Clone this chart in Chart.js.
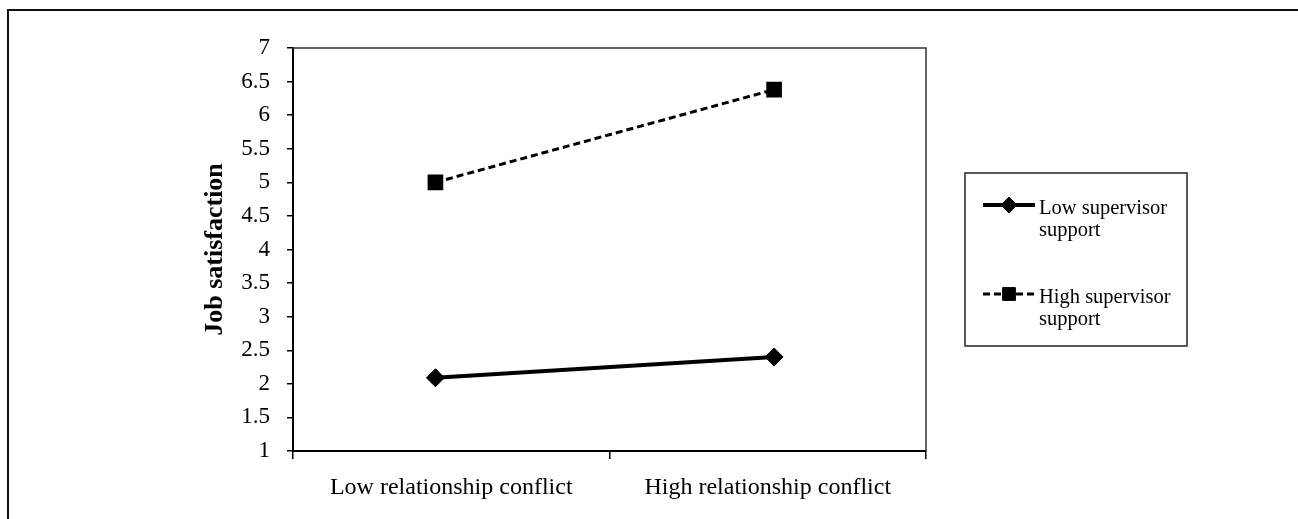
<!DOCTYPE html>
<html>
<head>
<meta charset="utf-8">
<script src="https://cdn.jsdelivr.net/npm/chart.js@4/dist/chart.umd.min.js"></script>
<style>
  html, body { margin: 0; padding: 0; background: #fff; overflow: hidden; }
  #frame { position: absolute; left: 7px; top: 9px; width: 1400px; height: 600px; border-top: 2px solid #111; border-left: 2px solid #111; }
  #wrap { position: absolute; left: 0; top: 0; width: 1298px; height: 519px; }
</style>
</head>
<body>
<div id="frame"></div>
<div id="wrap"><canvas id="chart"></canvas></div>
<script>
const categories = ["Low relationship conflict", "High relationship conflict"]
const xPositions = [0.45, 1.52]
const lowSupport = [2.09, 2.4]
const highSupport = [5.0, 6.38]
const seriesNames = [["Low supervisor", "support"], ["High supervisor", "support"]]
const yTicks = [1, 1.5, 2, 2.5, 3, 3.5, 4, 4.5, 5, 5.5, 6, 6.5, 7]

const serif = "'Liberation Serif', 'Times New Roman', serif"

function points(vals){
    return vals.map((v, i) => ({ x: xPositions[i], y: v }))
}

// box round the plot area and the legend on the right
const boxPlugin = {
    id: 'boxPlugin',
    afterDraw(chart){
        const ctx = chart.ctx
        const a = chart.chartArea
        ctx.save()
        ctx.strokeStyle = '#333'
        ctx.lineWidth = 1.5
        ctx.beginPath()
        ctx.moveTo(a.left, a.top)
        ctx.lineTo(a.right, a.top)
        ctx.lineTo(a.right, a.bottom)
        ctx.stroke()

        // legend
        ctx.strokeStyle = '#222'
        ctx.lineWidth = 1.5
        ctx.strokeRect(965, 173, 222, 173)
        const rows = [205, 294]
        chart.data.datasets.forEach((ds, i) => {
            const y = rows[i]
            ctx.strokeStyle = '#000'
            ctx.lineWidth = ds.borderWidth
            ctx.setLineDash(ds.borderDash || [])
            ctx.beginPath()
            ctx.moveTo(983, y)
            ctx.lineTo(1035, y)
            ctx.stroke()
            ctx.setLineDash([])
            ctx.fillStyle = '#000'
            ctx.lineWidth = 1
            Chart.helpers.drawPoint(ctx, { pointStyle: ds.pointStyle, radius: ds.pointRadius - 1, borderWidth: 1 }, 1009, y)
            ctx.fill()
            ctx.font = '20.5px ' + serif
            ctx.textBaseline = 'middle'
            ctx.fillText(seriesNames[i][0], 1039, y + 4)
            ctx.fillText(seriesNames[i][1], 1039, y + 26)
        })
        ctx.restore()
    }
}

new Chart(document.getElementById('chart'), {
    type: 'line',
    data: {
        labels: categories,
        datasets: [
            {
                label: seriesNames[0].join(' '),
                data: points(lowSupport),
                xAxisID: 'xp',
                borderColor: '#000',
                backgroundColor: '#000',
                borderWidth: 4,
                pointStyle: 'rectRot',
                pointRadius: 9,
                pointBorderWidth: 1,
                tension: 0
            },
            {
                label: seriesNames[1].join(' '),
                data: points(highSupport),
                xAxisID: 'xp',
                borderColor: '#000',
                backgroundColor: '#000',
                borderWidth: 3,
                borderDash: [7, 4],
                pointStyle: 'rect',
                pointRadius: 10,
                pointBorderWidth: 1.5,
                tension: 0
            }
        ]
    },
    options: {
        responsive: true,
        maintainAspectRatio: false,
        animation: false,
        layout: { padding: { left: 200, right: 372, top: 48, bottom: 0 } },
        plugins: { legend: { display: false }, tooltip: { enabled: false } },
        scales: {
            x: {
                type: 'category',
                offset: true,
                afterFit: s => { s.height = 68 },
                grid: { display: true, drawOnChartArea: false, offset: true, tickLength: 8, color: '#000', lineWidth: 1.5 },
                border: { display: true, color: '#000', width: 2 },
                ticks: { color: '#000', font: { family: serif, size: 24 }, padding: 14 }
            },
            xp: {
                type: 'linear',
                display: false,
                min: 0,
                max: 2
            },
            y: {
                min: 1,
                max: 7,
                afterFit: s => { s.width = 93 },
                afterBuildTicks: s => { s.ticks = yTicks.map(v => ({ value: v })) },
                grid: { display: true, drawOnChartArea: false, tickLength: 6, color: '#000', lineWidth: 1.5 },
                border: { display: true, color: '#000', width: 2 },
                ticks: { color: '#000', font: { family: serif, size: 23 }, padding: 17, callback: v => String(v) },
                title: { display: true, text: 'Job satisfaction', color: '#000', font: { family: serif, size: 26, weight: 'bold' }, padding: 0 }
            }
        }
    },
    plugins: [boxPlugin]
})
</script>
</body>
</html>
